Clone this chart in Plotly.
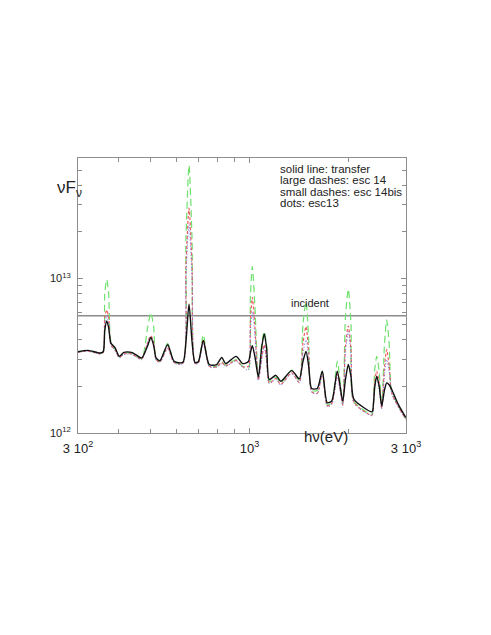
import plotly.graph_objects as go

# photon energy (eV)
energy = [300, 322, 350, 358, 362, 367, 372, 378, 389, 401,
          414, 437, 451, 469, 490, 500, 510, 519, 533, 563,
          589, 626, 640, 654, 668, 682, 698, 723, 754, 794,
          823, 846, 910, 953, 992, 1006, 1020, 1039, 1064, 1090,
          1109, 1128, 1149, 1204, 1245, 1345, 1418, 1455, 1487, 1515,
          1547, 1609, 1667, 1726, 1781, 1852, 1924, 1960, 2001, 2040,
          2082, 2359, 2375, 2410, 2443, 2485, 2530, 2580, 2620, 2665,
          2714, 2842, 2994]

# nu F_nu in units of 1e12
transfer = [3.35, 3.42, 3.29, 3.35, 4.6, 5.30, 4.8, 3.81, 3.56, 3.13,
            3.32, 3.32, 3.20, 3.06, 3.7, 4.14, 3.7, 3.06, 2.94, 3.72,
            2.91, 2.86, 3.9, 6.81, 3.9, 2.86, 2.89, 3.96, 2.77, 2.77,
            3.08, 2.81, 3.13, 2.81, 2.90, 3.3, 3.67, 3.1, 2.31, 3.6,
            4.38, 3.5, 2.22, 2.36, 2.16, 2.53, 2.24, 2.9, 3.37, 2.7,
            1.94, 1.94, 2.51, 1.57, 1.61, 2.51, 1.61, 2.2, 2.77, 2.3,
            1.65, 1.37, 1.40, 2.0, 2.33, 2.0, 1.50, 1.9, 2.11, 2.05,
            1.91, 1.53, 1.26]

esc14 = [3.35, 3.40, 3.27, 3.35, 8.0, 9.81, 8.0, 3.90, 3.50, 3.10,
         3.30, 3.28, 3.15, 3.02, 4.9, 5.99, 4.9, 3.00, 2.90, 3.80,
         2.88, 2.84, 18.0, 53.8, 18.0, 2.84, 2.86, 4.31, 2.72, 2.70,
         2.89, 2.74, 2.98, 2.70, 2.60, 7.5, 11.9, 6.5, 2.25, 3.8,
         4.53, 3.7, 2.15, 2.30, 2.10, 2.55, 2.18, 5.0, 7.05, 4.0,
         1.90, 1.88, 2.50, 1.52, 1.58, 2.90, 1.55, 5.5, 8.50, 5.0,
         1.60, 1.32, 1.36, 2.6, 3.13, 2.5, 1.46, 3.8, 5.38, 3.8,
         1.85, 1.50, 1.24]

esc14bis = [3.33, 3.38, 3.25, 3.32, 5.6, 6.24, 5.6, 3.70, 3.45, 3.08,
            3.25, 3.25, 3.12, 3.00, 3.9, 4.25, 3.9, 2.98, 2.88, 3.55,
            2.86, 2.82, 12.0, 28.4, 12.0, 2.82, 2.84, 4.00, 2.70, 2.68,
            2.85, 2.72, 2.95, 2.68, 2.70, 5.2, 7.52, 4.8, 2.20, 3.1,
            3.72, 3.0, 2.10, 2.25, 2.06, 2.45, 2.12, 3.8, 4.87, 3.3,
            1.85, 1.80, 2.45, 1.50, 1.55, 2.40, 1.52, 3.6, 4.92, 3.4,
            1.58, 1.30, 1.34, 2.2, 2.51, 2.1, 1.44, 2.7, 3.46, 2.7,
            1.82, 1.48, 1.23]

esc13 = [3.33, 3.38, 3.25, 3.32, 5.1, 5.71, 5.1, 3.68, 3.43, 3.06,
         3.22, 3.22, 3.10, 2.98, 3.85, 4.18, 3.85, 2.96, 2.86, 3.50,
         2.84, 2.80, 10.0, 22.2, 10.0, 2.80, 2.82, 3.80, 2.68, 2.66,
         2.80, 2.70, 2.92, 2.66, 2.55, 4.5, 6.08, 4.2, 2.18, 3.0,
         3.60, 2.9, 2.08, 2.22, 2.04, 2.42, 2.10, 3.3, 4.00, 3.0,
         1.83, 1.80, 2.42, 1.48, 1.53, 2.30, 1.50, 3.3, 4.53, 3.1,
         1.56, 1.29, 1.33, 2.0, 2.28, 1.95, 1.43, 2.4, 2.98, 2.5,
         1.80, 1.47, 1.22]

incident_x = [300, 3000]
incident = [5.73, 5.73]

x_ticks = [300, 1000, 3000]
x_text = ['3 10<sup>2</sup>', '10<sup>3</sup>', '3 10<sup>3</sup>']
x_minor = [400, 500, 600, 700, 800, 900, 2000]
y_ticks = [1e12, 1e13]
y_text = ['10<sup>12</sup>', '10<sup>13</sup>']
y_minor = [2e12, 3e12, 4e12, 5e12, 6e12, 7e12, 8e12, 9e12, 2e13, 3e13, 4e13, 5e13]

legend_lines = ['solid line: transfer', 'large dashes: esc 14',
                'small dashes: esc 14bis', 'dots: esc13']

FONT = 'Liberation Sans, Arial, sans-serif'
scale = 1e12

fig = go.Figure()

fig.add_trace(go.Scatter(x=incident_x, y=[v * scale for v in incident], mode='lines',
                         line=dict(color='#8c8c8c', width=1.5), showlegend=False))

series = [
    (esc14, 'rgb(110,225,110)', '7px,4px', 1.2),
    (esc14bis, 'rgb(235,95,95)', '3px,2px', 1.2),
    (esc13, 'rgb(110,110,235)', '1px,2px', 1.0),
    (transfer, '#111111', 'solid', 1.4),
]
for vals, col, dash, w in series:
    fig.add_trace(go.Scatter(x=energy, y=[v * scale for v in vals], mode='lines',
                             line=dict(color=col, width=w, dash=dash, shape='spline', smoothing=0.7),
                             showlegend=False))

# texte
fig.add_annotation(text='νF<sub>ν</sub>', xref='paper', yref='paper', x=-0.07, y=0.935,
                   showarrow=False, font=dict(family=FONT, size=17, color='#222'))
fig.add_annotation(text='hν(eV)', xref='paper', yref='paper', x=0.829, y=-0.052,
                   showarrow=False, font=dict(family=FONT, size=15, color='#222'))
fig.add_annotation(text='incident', xref='paper', yref='paper', x=0.771, y=0.473,
                   showarrow=False, font=dict(family=FONT, size=11, color='#222'))
for i, t in enumerate(legend_lines):
    fig.add_annotation(text=t, xref='paper', yref='paper', x=0.61, y=(433 - 169 - 11.3 * i) / 275,
                       xanchor='left', yanchor='middle', showarrow=False,
                       font=dict(family=FONT, size=11.5, color='#222'))

axis_style = dict(type='log', showline=True, linecolor='#8c8c8c', linewidth=1, mirror='allticks',
                  ticks='inside', ticklen=5, tickcolor='#8c8c8c', showgrid=False, zeroline=False)

# page body has an 8px margin, hence the smaller figure
fig.update_layout(width=483, height=627, plot_bgcolor='white', paper_bgcolor='white',
                  margin=dict(l=70, r=85, t=150, b=202),
                  font=dict(family=FONT, color='#222'))
fig.update_xaxes(range=[2.4771, 3.4771], tickvals=x_ticks, ticktext=x_text,
                 minor=dict(tickvals=x_minor, ticks='inside', ticklen=4, tickcolor='#8c8c8c'),
                 tickfont=dict(size=13), ticklabelstandoff=3, **axis_style)
fig.update_yaxes(range=[12, 13.778], tickvals=y_ticks, ticktext=y_text,
                 minor=dict(tickvals=y_minor, ticks='inside', ticklen=4, tickcolor='#8c8c8c'),
                 tickfont=dict(size=11), ticklabelstandoff=4, **axis_style)

fig.write_html("out.html")
